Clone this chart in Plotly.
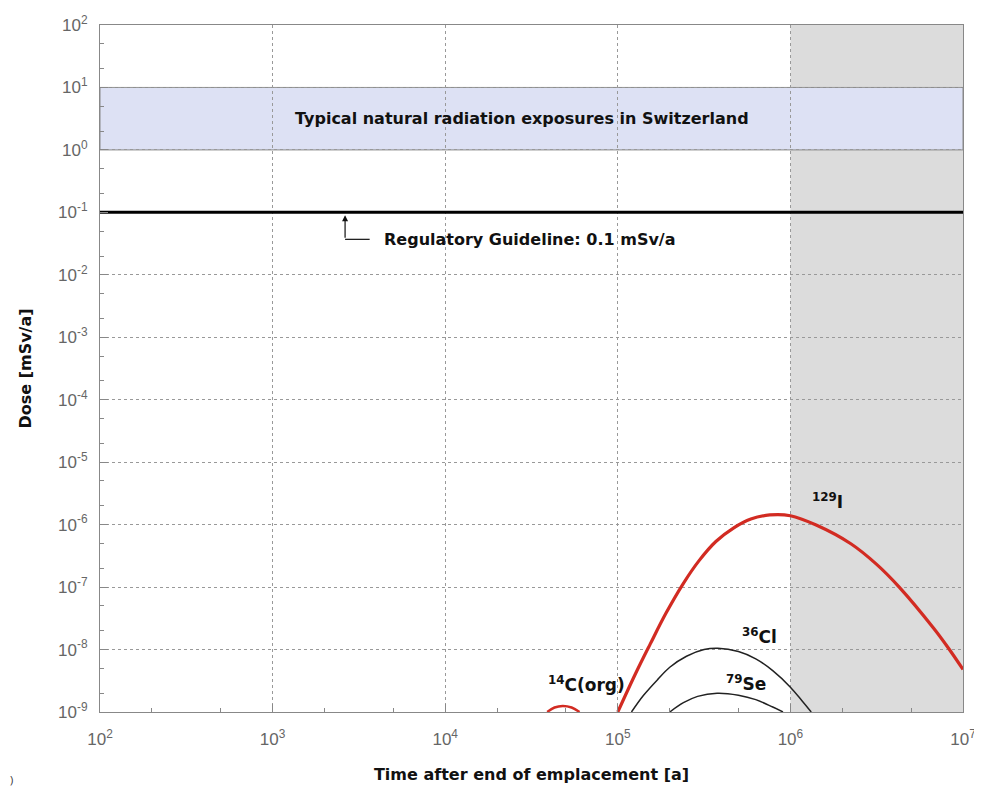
import numpy as np
import plotly.graph_objects as go

# --- data ---
t_I129 = [1.0e5, 1.26e5, 1.54e5, 1.9e5, 2.4e5, 2.95e5, 3.7e5, 4.7e5, 5.9e5, 7.6e5, 1.0e6,
          1.41e6, 2.24e6, 3.16e6, 4.27e6, 6.76e6, 8.3e6, 1.0e7]
d_I129 = [1.0e-9, 3.98e-9, 1.22e-8, 3.8e-8, 1.15e-7, 2.63e-7, 5.37e-7, 8.9e-7, 1.23e-6, 1.43e-6, 1.39e-6,
          9.86e-7, 4.94e-7, 2.31e-7, 1.0e-7, 2.19e-8, 1.02e-8, 4.8e-9]

t_Cl36 = [1.2e5, 1.41e5, 1.7e5, 2.0e5, 2.5e5, 3.16e5, 3.8e5, 5.0e5, 6.3e5, 7.9e5, 1.0e6, 1.17e6, 1.32e6]
d_Cl36 = [1.0e-9, 1.85e-9, 3.3e-9, 5.2e-9, 7.8e-9, 1.0e-8, 1.05e-8, 9.3e-9, 7.1e-9, 4.6e-9, 2.5e-9, 1.5e-9, 1.0e-9]

t_Se79 = [2.0e5, 2.4e5, 2.9e5, 3.76e5, 5.0e5, 6.3e5, 7.9e5, 9.06e5]
d_Se79 = [1.0e-9, 1.41e-9, 1.78e-9, 2.0e-9, 1.86e-9, 1.58e-9, 1.2e-9, 1.0e-9]

t_C14 = [3.9e4, 4.3e4, 4.8e4, 5.4e4, 6.0e4]
d_C14 = [1.0e-9, 1.18e-9, 1.25e-9, 1.18e-9, 1.0e-9]

nat_low, nat_high = 1.0, 10.0
guideline = 0.1
shade_start, shade_end = 1e6, 1e7

x_ticks = [1e2, 1e3, 1e4, 1e5, 1e6, 1e7]
x_tick_text = ["10<sup>2</sup>", "10<sup>3</sup>", "10<sup>4</sup>", "10<sup>5</sup>", "10<sup>6</sup>", "10<sup>7</sup>"]
y_ticks = [10.0 ** e for e in range(-9, 3)]
y_tick_text = ["10<sup>%d</sup>" % e for e in range(-9, 3)]

BOLD = "DejaVu Sans, Liberation Sans, Arial"

# page body has an 8px margin: figure is drawn from (8, 8)
W, H = 974, 781
ML, MR, MT, MB = 92, 19, 17, 77
PW, PH = W - ML - MR, H - MT - MB


def px(xp):  # page pixel -> paper x
    return (xp - 8 - ML) / PW


def py(yp):  # page pixel -> paper y
    return (MT + PH - (yp - 8)) / PH


fig = go.Figure()

# shaded future region
fig.add_shape(type="rect", xref="x", yref="y", x0=shade_start, x1=shade_end, y0=1e-9, y1=1e2,
              fillcolor="#dcdcdc", line=dict(width=0), layer="below")
# natural radiation band
fig.add_shape(type="rect", xref="x", yref="y", x0=1e2, x1=1e7, y0=nat_low, y1=nat_high,
              fillcolor="#dde1f4", line=dict(color="#8a8a8a", width=1), layer="below")

# regulatory guideline
fig.add_trace(go.Scatter(x=[1e2, 1e7], y=[guideline, guideline], mode="lines",
                         line=dict(color="black", width=3), hoverinfo="skip", showlegend=False))

# curves
spl = dict(shape="spline", smoothing=1.0)
fig.add_trace(go.Scatter(x=t_Cl36, y=d_Cl36, mode="lines", line=dict(color="#222222", width=1.5, **spl), showlegend=False))
fig.add_trace(go.Scatter(x=t_Se79, y=d_Se79, mode="lines", line=dict(color="#222222", width=1.5, **spl), showlegend=False))
fig.add_trace(go.Scatter(x=t_C14, y=d_C14, mode="lines", line=dict(color="#d22b22", width=2.5, **spl), showlegend=False))
fig.add_trace(go.Scatter(x=t_I129, y=d_I129, mode="lines", line=dict(color="#d22b22", width=3.2, **spl), showlegend=False))

axis_common = dict(type="log", showline=True, linecolor="#888888", linewidth=1, mirror=True,
                   ticks="inside", ticklen=8, tickcolor="#888888", automargin=False,
                   showgrid=True, gridcolor="#999999", griddash="dot", gridwidth=1,
                   zeroline=False,
                   tickfont=dict(family="Liberation Sans, Arial", size=17, color="#666666"),
                   minor=dict(ticks="inside", ticklen=4, tickcolor="#888888", showgrid=False))

fig.update_xaxes(range=[2, 7], tickvals=x_ticks, ticktext=x_tick_text, ticklabelstandoff=12,
                 title=dict(text="<b>Time after end of emplacement [a]</b>",
                            font=dict(family=BOLD, size=16, color="#111111"), standoff=20),
                 **axis_common)
fig.update_yaxes(range=[-9, 2], tickvals=y_ticks, ticktext=y_tick_text, ticklabelstandoff=8,
                 title=dict(text="<b>Dose [mSv/a]</b>",
                            font=dict(family=BOLD, size=16, color="#111111"), standoff=22),
                 **axis_common)

lab_font = dict(family=BOLD, size=17, color="#111111")
fig.add_annotation(x=np.log10(2.8e4), y=np.log10(3.16), text="<b>Typical natural radiation exposures in Switzerland</b>",
                   showarrow=False, font=dict(family=BOLD, size=16, color="#111111"))
fig.add_annotation(xref="paper", yref="paper", x=px(845), y=py(514), text="<b><sup>129</sup>I</b>", showarrow=False, font=lab_font)
fig.add_annotation(xref="paper", yref="paper", x=px(779), y=py(649), text="<b><sup>36</sup>Cl</b>", showarrow=False, font=lab_font)
fig.add_annotation(xref="paper", yref="paper", x=px(768), y=py(696), text="<b><sup>79</sup>Se</b>", showarrow=False, font=lab_font)
fig.add_annotation(xref="paper", yref="paper", x=px(586), y=py(697), text="<b><sup>14</sup>C(org)</b>", showarrow=False, font=lab_font)

# guideline label with L-shaped pointer
fig.add_annotation(x=np.log10(2630), y=np.log10(0.09), ax=np.log10(2630), ay=np.log10(0.037),
                   axref="x", ayref="y", xref="x", yref="y", text="", showarrow=True,
                   arrowhead=2, arrowsize=1, arrowwidth=1.2, arrowcolor="#111111")
fig.add_shape(type="line", xref="x", yref="y", x0=2630, x1=3650, y0=0.037, y1=0.037,
              line=dict(color="#111111", width=1.2))
fig.add_annotation(x=np.log10(4300), y=np.log10(0.037), xanchor="left", text="<b>Regulatory Guideline: 0.1 mSv/a</b>",
                   showarrow=False, font=dict(family=BOLD, size=16, color="#111111"))

fig.add_annotation(xref="paper", yref="paper", x=px(8), y=py(789), xanchor="left", yanchor="bottom",
                   text=")", showarrow=False, font=dict(size=11, color="#333333"))

fig.update_layout(width=W, height=H, margin=dict(l=ML, r=MR, t=MT, b=MB),
                  plot_bgcolor="white", paper_bgcolor="white", showlegend=False)

fig.write_html("out.html")
